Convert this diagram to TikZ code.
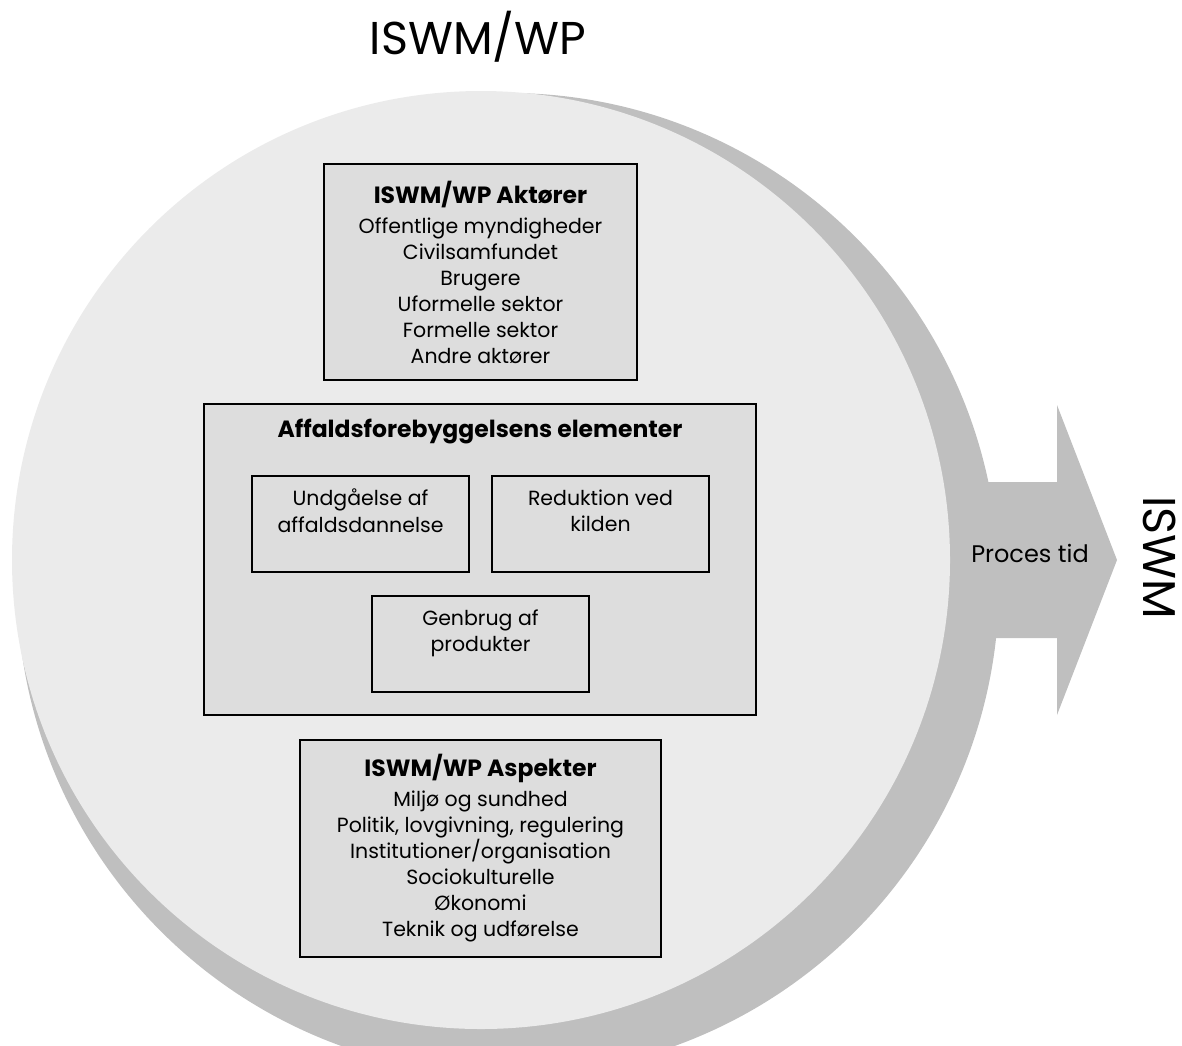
\documentclass[tikz,border=0pt]{standalone}
\usepackage{fontspec}
\setmainfont{Poppins}
\usepackage{tikz}
\usetikzlibrary{positioning}
\definecolor{circlegray}{HTML}{EBEBEB}
\definecolor{shadegray}{HTML}{BFBFBF}
\definecolor{boxgray}{HTML}{DDDDDD}
\tikzset{
    bigbox/.style={draw=black, fill=boxgray, line width=1.6pt, inner sep=0pt, align=center,
        font=\fontsize{20.5}{26}\selectfont},
    smallbox/.style={draw=black, fill=boxgray, line width=1.2pt, inner sep=0pt, align=center,
        minimum width=217pt, minimum height=96pt, font=\fontsize{20.5}{26.5}\selectfont},
    boxtitle/.style={font=\fontsize{23.5}{26}\selectfont\bfseries},
    bigtext/.style={font=\fontsize{46}{50}\selectfont},
}

\begin{document}
\begin{tikzpicture}[x=1pt, y=-1pt]
	\useasboundingbox (0,0) rectangle (1182,1045);
	\clip (0,0) rectangle (1182,1045);
	% shadow circle and arrow
	\fill[shadegray] (508,584) circle (491pt);
	\fill[shadegray] (950,482) -- (1057,482) -- (1057,405) -- (1117,560)
		-- (1057,715) -- (1057,638) -- (950,638) -- cycle;
	\fill[circlegray] (481,560) circle (469pt);
	\node[bigtext] (title) at (478,37) {ISWM/WP};
	\node[bigtext, rotate=-90] (iswm) at (1160,558) {ISWM};
	\node[font=\fontsize{24}{26}\selectfont] (proces) at (1030,553) {Proces tid};
	% actors
	\node[bigbox, minimum width=313pt, minimum height=216pt] (aktorer) at (480.5,272)
		{{\fontsize{23.5}{26}\selectfont\bfseries ISWM/WP Aktører}\\[4pt]
		Offentlige myndigheder\\Civilsamfundet\\Brugere\\Uformelle sektor\\
		Formelle sektor\\Andre aktører};
	% elements
	\node[bigbox, minimum width=552pt, minimum height=311pt] (elementer) at (480,559.5) {};
	\node[boxtitle] (elemtitle) at (480,432) {Affaldsforebyggelsens elementer};
	\node[smallbox] (undgaa) at (360.5,524) {Undgåelse af\\affaldsdannelse\\~};
	\node[smallbox] (reduk) at (600.5,524) {Reduktion ved\\kilden\\~};
	\node[smallbox] (genbrug) at (480.5,644) {Genbrug af\\produkter\\~};
	% aspects
	\node[bigbox, minimum width=361pt, minimum height=217pt] (aspekter) at (480.5,848.5)
		{{\fontsize{23.5}{26}\selectfont\bfseries ISWM/WP Aspekter}\\[4pt]
		Miljø og sundhed\\Politik, lovgivning, regulering\\Institutioner/organisation\\
		Sociokulturelle\\Økonomi\\Teknik og udførelse};
\end{tikzpicture}
\end{document}
